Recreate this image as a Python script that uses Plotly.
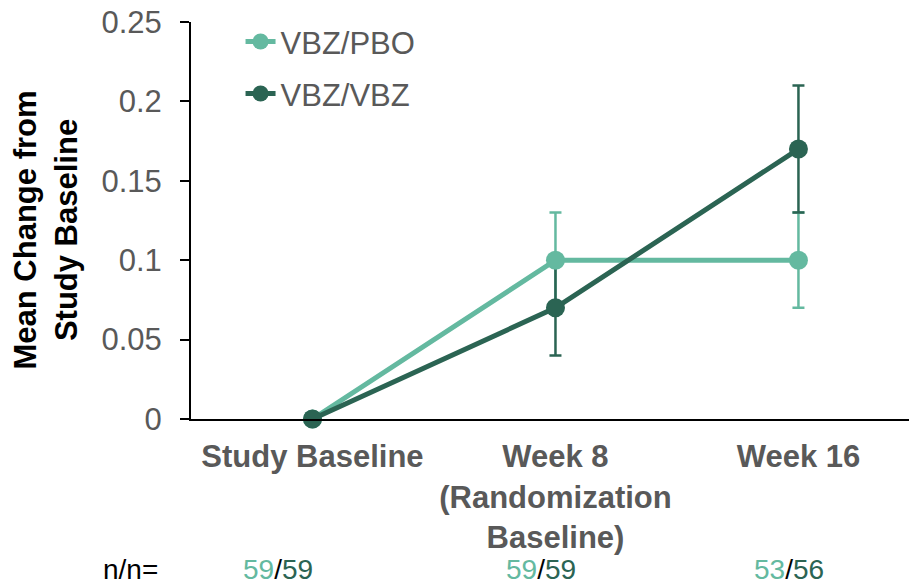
import plotly.graph_objects as go

# ---- data ----
categories = ["Study Baseline", "Week 8<br>(Randomization<br>Baseline)", "Week 16"]
pbo_mean = [0.0, 0.10, 0.10]
pbo_err = [None, 0.03, 0.03]
vbz_mean = [0.0, 0.07, 0.17]
vbz_err = [None, 0.03, 0.04]
n_pbo = [59, 59, 53]
n_vbz = [59, 59, 56]
y_ticks = [0, 0.05, 0.1, 0.15, 0.2, 0.25]
y_ticktext = ["0", "0.05", "0.1", "0.15", "0.2", "0.25"]

LIGHT = "#64B9A0"
DARK = "#2B6453"
GRAY = "#595959"
FONT = "Liberation Sans, Arial, sans-serif"

fig = go.Figure()

# error bars (drawn first so markers sit on top)
for mean, err, col in [(pbo_mean, pbo_err, LIGHT), (vbz_mean, vbz_err, DARK)]:
    fig.add_trace(go.Scatter(
        x=categories, y=mean, mode="markers",
        marker=dict(size=1, color="rgba(0,0,0,0)"),
        error_y=dict(type="data", array=err, visible=True, color=col,
                     thickness=2.5, width=6),
        showlegend=False, hoverinfo="skip", cliponaxis=False))

fig.add_trace(go.Scatter(
    x=categories, y=pbo_mean, mode="lines+markers", name="VBZ/PBO",
    line=dict(color=LIGHT, width=5), marker=dict(color=LIGHT, size=19),
    cliponaxis=False, legend="legend"))
fig.add_trace(go.Scatter(
    x=categories, y=vbz_mean, mode="lines+markers", name="VBZ/VBZ",
    line=dict(color=DARK, width=5), marker=dict(color=DARK, size=19),
    cliponaxis=False, legend="legend2"))

annotations = [
    dict(text="<b>Mean Change from<br>Study Baseline</b>", textangle=-90,
         xref="paper", yref="paper", x=0, xshift=-145, y=0.4748,
         xanchor="center", yanchor="middle", showarrow=False,
         font=dict(family=FONT, size=31, color="black")),
    dict(text="n/n=", xref="paper", yref="paper", x=0, xshift=-31,
         y=-0.378, xanchor="right", yanchor="middle", showarrow=False,
         font=dict(family=FONT, size=28, color="black")),
]
n_x = [-0.14, 0.94, 1.96]
for xi, a, b in zip(n_x, n_pbo, n_vbz):
    annotations.append(dict(
        text=f"<span style='color:{LIGHT}'>{a}</span>/<span style='color:{DARK}'>{b}</span>",
        xref="x", yref="paper", x=xi, y=-0.378, xanchor="center",
        yanchor="middle", showarrow=False,
        font=dict(family=FONT, size=28, color="black")))

fig.update_layout(
    width=909, height=586,
    margin=dict(l=191, r=0, t=22, b=167, autoexpand=False),
    paper_bgcolor="white", plot_bgcolor="white",
    font=dict(family=FONT, color=GRAY),
    xaxis=dict(type="category", range=[-0.5, 2.455], showgrid=False,
               showline=True, linecolor="black", linewidth=2, ticks="",
               tickfont=dict(family=FONT, size=31, color=GRAY, weight="bold"),
               ticklabelstandoff=9, zeroline=False, automargin=False),
    yaxis=dict(range=[0, 0.25], tickvals=y_ticks, ticktext=y_ticktext,
               showgrid=False, zeroline=False, showline=True,
               linecolor="black", linewidth=2, ticks="outside",
               ticklen=9, tickwidth=2, tickcolor="black",
               tickfont=dict(family=FONT, size=31, color=GRAY),
               ticklabelstandoff=12, automargin=False,
               ticklabeloverflow="allow"),
    legend=dict(x=0.069, y=0.95, xanchor="left", yanchor="middle",
                bgcolor="rgba(0,0,0,0)",
                font=dict(family=FONT, size=31, color=GRAY)),
    legend2=dict(x=0.069, y=0.819, xanchor="left", yanchor="middle",
                 bgcolor="rgba(0,0,0,0)",
                 font=dict(family=FONT, size=31, color=GRAY)),
    annotations=annotations,
)

fig.write_html("out.html",
               config={"displayModeBar": False},
               post_script="document.body.style.margin='0';document.body.style.overflow='hidden';")
